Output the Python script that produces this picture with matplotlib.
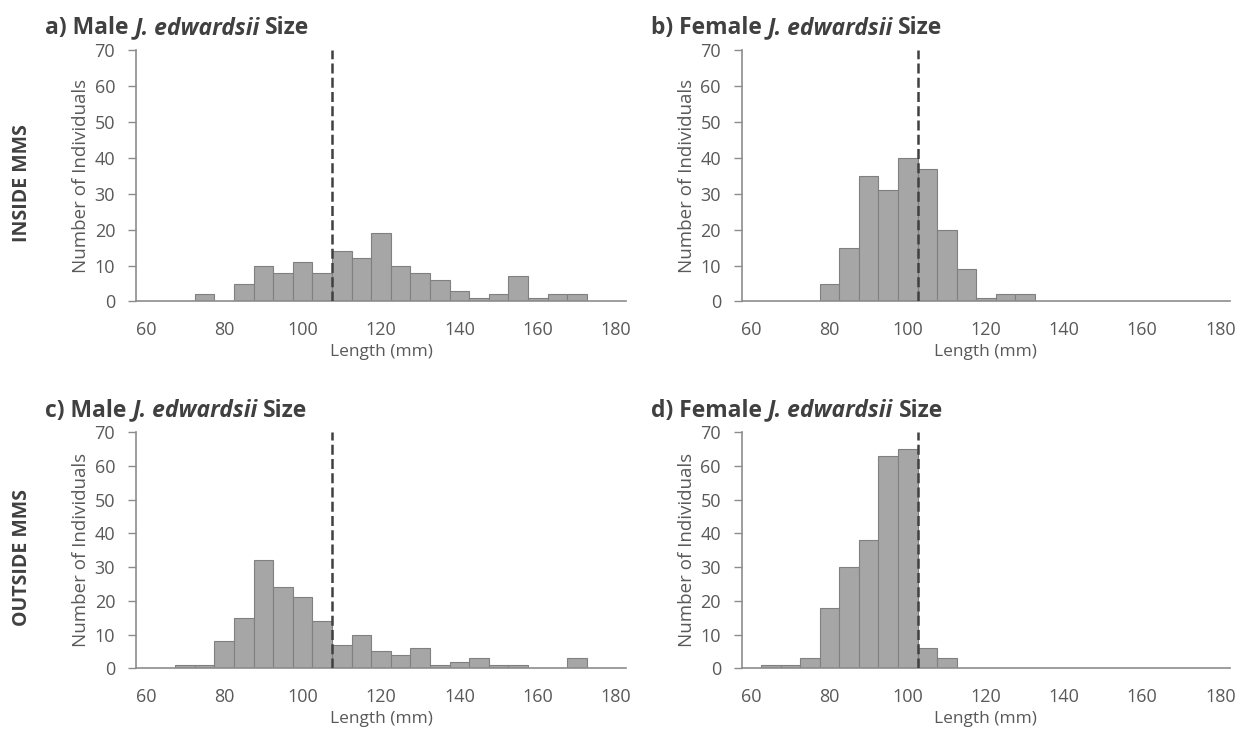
import numpy as np
import matplotlib.pyplot as plt
from matplotlib.offsetbox import TextArea, HPacker, AnchoredOffsetbox

plt.rcParams['font.family'] = ['Open Sans', 'DejaVu Sans']

# 5 mm length bins (bin centres)
bins = np.arange(65, 175, 5)

male_inside = [0, 0, 2, 0, 5, 10, 8, 11, 8, 14, 12, 19, 10, 8, 6, 3, 1, 2, 7, 1, 2, 2]
female_inside = [0, 0, 0, 5, 15, 35, 31, 40, 37, 20, 9, 1, 2, 2, 0, 0, 0, 0, 0, 0, 0, 0]
male_outside = [0, 1, 1, 8, 15, 32, 24, 21, 14, 7, 10, 5, 4, 6, 1, 2, 3, 1, 1, 0, 0, 3]
female_outside = [1, 1, 3, 18, 30, 38, 63, 65, 6, 3, 0, 0, 0, 0, 0, 0, 0, 0, 0, 0, 0, 0]

# mean size lines
male_mean = 107.5
female_mean = 102.5

panels = [
    ('a)', 'Male', male_inside, male_mean),
    ('b)', 'Female', female_inside, female_mean),
    ('c)', 'Male', male_outside, male_mean),
    ('d)', 'Female', female_outside, female_mean),
]
rects = [
    [0.1096, 0.5915, 0.3948, 0.3408],
    [0.5977, 0.5915, 0.3935, 0.3408],
    [0.1096, 0.0944, 0.3948, 0.3200],
    [0.5977, 0.0944, 0.3935, 0.3200],
]

txt = '#595959'
dark = '#404040'
axc = '#8c8c8c'

fig = plt.figure(figsize=(12.41, 7.38), dpi=100)

for (tag, sex, counts, mean), rect in zip(panels, rects):
    ax = fig.add_axes(rect)
    counts = np.array(counts)
    keep = counts > 0
    ax.bar(bins[keep], counts[keep], width=5, color='#a6a6a6',
           edgecolor='#808080', linewidth=0.8, zorder=2)
    ax.axvline(mean, color=dark, lw=1.8, ls=(0, (4, 1.7)), zorder=3)

    ax.set_xlim(57.5, 182.5)
    ax.set_ylim(0, 70)
    ax.set_xticks(range(60, 181, 20))
    ax.set_yticks(range(0, 71, 10))
    ax.tick_params(axis='x', length=0, pad=14, labelsize=13, labelcolor=txt)
    ax.tick_params(axis='y', length=6, width=1, color=axc, pad=9,
                   labelsize=13, labelcolor=txt)
    for s in ['top', 'right']:
        ax.spines[s].set_visible(False)
    for s in ['left', 'bottom']:
        ax.spines[s].set_color(axc)
        ax.spines[s].set_linewidth(1.2)

    ax.set_xlabel('Length (mm)', fontsize=12.5, color=txt, labelpad=4)
    ax.set_ylabel('Number of Individuals', fontsize=13.5, color=txt, labelpad=3)

    # panel title with italic species name
    style = dict(weight='bold', size=16.5, color=dark)
    parts = [
        TextArea(f'{tag} {sex}', textprops=style),
        TextArea('J. edwardsii', textprops=dict(style, style='italic')),
        TextArea('Size', textprops=style),
    ]
    title = AnchoredOffsetbox(loc='lower left', child=HPacker(children=parts, sep=4, pad=0),
                              pad=0, borderpad=0, frameon=False,
                              bbox_to_anchor=(rect[0] - 0.073, rect[1] + rect[3] + 0.013),
                              bbox_transform=fig.transFigure)
    fig.add_artist(title)

fig.text(0.018, 0.752, 'INSIDE MMS', rotation=90, ha='center', va='center',
         fontsize=14, weight='bold', color=dark)
fig.text(0.018, 0.245, 'OUTSIDE MMS', rotation=90, ha='center', va='center',
         fontsize=14, weight='bold', color=dark)

fig.savefig('out.png', dpi=100)
